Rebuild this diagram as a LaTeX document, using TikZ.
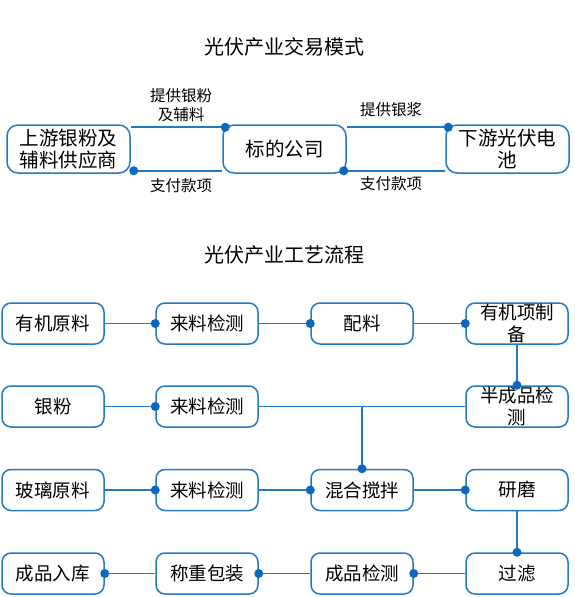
\documentclass[tikz,border=0pt]{standalone}
\usepackage{fontspec}
\newfontfamily\cjk{Noto Sans CJK SC}
\definecolor{bc}{RGB}{36,121,199}
\definecolor{dc}{RGB}{10,104,192}
\begin{document}
\begin{tikzpicture}[x=1pt,y=-1pt,
 box/.style={draw=bc, line width=1.5pt, rounded corners=9pt, fill=white, minimum width=102pt, minimum height=41pt, align=center, inner sep=0pt, font=\cjk\fontsize{18.5}{21.5}\selectfont},
 bigbox/.style={box, minimum width=123pt, minimum height=48pt, rounded corners=11pt, font=\cjk\fontsize{19.5}{22}\selectfont},
 conn/.style={draw=bc, line width=1.6pt},
 dot/.style={circle, fill=dc, inner sep=0pt, minimum size=9pt},
 lbl/.style={font=\cjk\fontsize{15.5}{19}\selectfont, align=center},
 ttl/.style={font=\cjk\fontsize{20}{23}\selectfont}]
\useasboundingbox (0,0) rectangle (575,597);
% titles
\node[ttl] (t1) at (284,47) {光伏产业交易模式};
\node[ttl] (t2) at (284,255) {光伏产业工艺流程};
% top section
\node[bigbox] (sup) at (68.5,149) {上游银粉及\\辅料供应商};
\node[bigbox] (co) at (284.5,149) {标的公司};
\node[bigbox] (dn) at (507.5,149) {下游光伏电\\池};
\draw[conn] ([yshift=-3pt]sup.north east) -- ([yshift=-3pt,xshift=3pt]co.north west) node[dot]{};
\draw[conn] ([yshift=3pt]co.south west) -- ([yshift=3pt,xshift=3pt]sup.south east) node[dot]{};
\draw[conn] ([yshift=-3pt]co.north east) -- ([yshift=-3pt,xshift=3pt]dn.north west) node[dot]{};
\draw[conn] ([yshift=3pt]dn.south west) -- ([yshift=3pt,xshift=-3pt]co.south east) node[dot]{};
\node[lbl] (l1) at (181,105) {提供银粉\\及辅料};
\node[lbl] (l2) at (181,186) {支付款项};
\node[lbl] (l3) at (391,110) {提供银浆};
\node[lbl] (l4) at (391,184) {支付款项};
% process
\node[box] (a1) at (53,323.5) {有机原料};
\node[box] (a2) at (207,323.5) {来料检测};
\node[box] (a3) at (362,323.5) {配料};
\node[box] (a4) at (517,323.5) {有机项制\\备};
\node[box] (b1) at (53,406.5) {银粉};
\node[box] (b2) at (207,406.5) {来料检测};
\node[box] (b4) at (517,406.5) {半成品检\\测};
\node[box] (c1) at (53,490) {玻璃原料};
\node[box] (c2) at (207,490) {来料检测};
\node[box] (c3) at (362,490) {混合搅拌};
\node[box] (c4) at (517,490) {研磨};
\node[box] (d1) at (53,573.5) {成品入库};
\node[box] (d2) at (207,573.5) {称重包装};
\node[box] (d3) at (362,573.5) {成品检测};
\node[box] (d4) at (517,573.5) {过滤};
\draw[conn] (a1.east) -- (a2.west) node[dot]{};
\draw[conn] (a2.east) -- (a3.west) node[dot]{};
\draw[conn] (a3.east) -- (a4.west) node[dot]{};
\draw[conn] (a4.south) -- (b4.north) node[dot]{};
\draw[conn] (b1.east) -- (b2.west) node[dot]{};
\draw[conn] (b2.east) -| (c3.north);
\draw[conn] (b4.west) -| (c3.north);
\node[dot] at (c3.north) {};
\draw[conn] (c1.east) -- (c2.west) node[dot]{};
\draw[conn] (c2.east) -- (c3.west) node[dot]{};
\draw[conn] (c3.east) -- (c4.west) node[dot]{};
\draw[conn] (c4.south) -- (d4.north) node[dot]{};
\draw[conn] (d4.west) -- (d3.east) node[dot]{};
\draw[conn] (d3.west) -- (d2.east) node[dot]{};
\draw[conn] (d2.west) -- (d1.east) node[dot]{};
\end{tikzpicture}
\end{document}
